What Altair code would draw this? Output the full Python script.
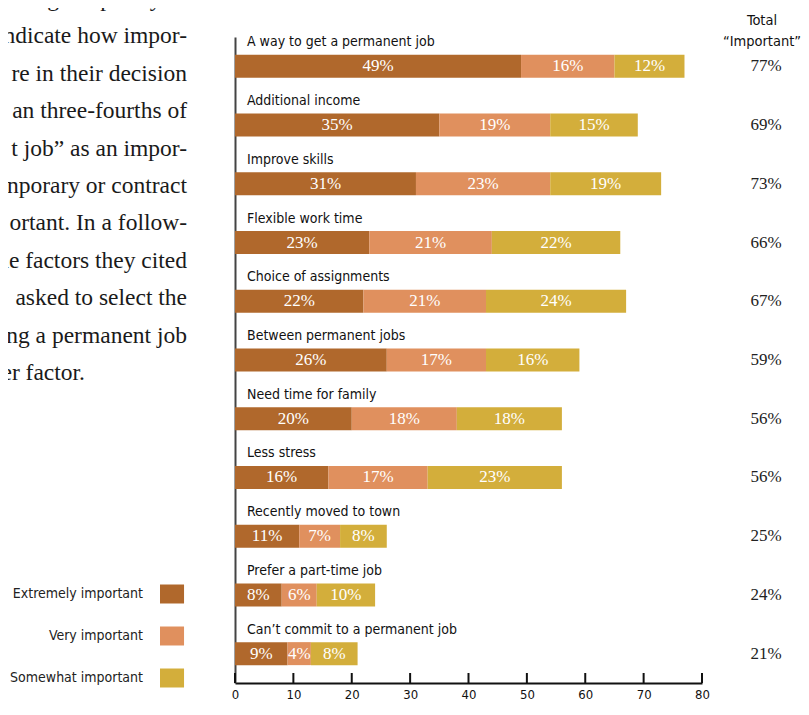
import altair as alt
import pandas as pd

categories = [
    "A way to get a permanent job",
    "Additional income",
    "Improve skills",
    "Flexible work time",
    "Choice of assignments",
    "Between permanent jobs",
    "Need time for family",
    "Less stress",
    "Recently moved to town",
    "Prefer a part-time job",
    "Can\u2019t commit to a permanent job",
]
levels = ["Extremely important", "Very important", "Somewhat important"]
extremely = [49, 35, 31, 23, 22, 26, 20, 16, 11, 8, 9]
very = [16, 19, 23, 21, 21, 17, 18, 17, 7, 6, 4]
somewhat = [12, 15, 19, 22, 24, 16, 18, 23, 8, 10, 8]
totals = [77, 69, 73, 66, 67, 59, 56, 56, 25, 24, 21]
colors = ["#B0682C", "#E0905E", "#D3AE3B"]
tick_values = [0, 10, 20, 30, 40, 50, 60, 70, 80]
total_header = ["Total", "\u201cImportant\u201d"]
paragraph_lines = [
    "osing temporary or",
    "ndicate how impor-",
    "re in their decision",
    "an three-fourths of",
    "t job\u201d as an impor-",
    "nporary or contract",
    "ortant. In a follow-",
    "he factors they cited",
    "asked to select the",
    "ng a permanent job",
    "er factor.",
]

SANS = "Liberation Sans Narrow, DejaVu Sans Condensed, Roboto Condensed, Arial Narrow, sans-serif"
SERIF = "Liberation Serif, DejaVu Serif, serif"

rows = []
for series, lvl in zip([extremely, very, somewhat], levels):
    for cat, v in zip(categories, series):
        rows.append({"category": cat, "level": lvl, "value": v, "order": levels.index(lvl)})
df = pd.DataFrame(rows)

cat_df = pd.DataFrame({"category": categories, "total": [f"{t}%" for t in totals]})

y_enc = alt.Y(
    "category:N",
    sort=categories,
    scale=alt.Scale(paddingInner=0, paddingOuter=0),
    axis=alt.Axis(title=None, labels=False, ticks=False, grid=False,
                  domain=True, domainColor="#444444", domainWidth=2),
)

stacked = (
    alt.Chart(df)
    .transform_stack(stack="value", groupby=["category"], as_=["start", "end"],
                     sort=[alt.SortField("order", order="ascending")])
    .transform_calculate(mid="(datum.start + datum.end) / 2", label="datum.value + '%'")
)

bars = stacked.mark_bar(size=23).encode(
    y=y_enc,
    x=alt.X(
        "start:Q",
        scale=alt.Scale(domain=[0, 80], nice=False, zero=True),
        axis=alt.Axis(values=tick_values, title=None, ticks=False, grid=False,
                      domainColor="#111111", domainWidth=2,
                      labelFont=SANS, labelFontSize=13, labelColor="#111111",
                      labelPadding=5, labelFlush=False),
    ),
    x2="end:Q",
    color=alt.Color(
        "level:N",
        scale=alt.Scale(domain=levels, range=colors),
        legend=alt.Legend(
            orient="none", legendX=-111, legendY=547.5, title=None,
            symbolType="M2.79,-1H5.32V1H2.79Z", symbolSize=361,
            symbolStrokeWidth=0, symbolOpacity=1,
            labelAlign="right", labelOffset=0, labelFont=SANS,
            labelFontSize=14, labelColor="#222222", rowPadding=23, padding=0,
        ),
    ),
)

bar_text = stacked.mark_text(font=SERIF, fontSize=17, color="white", baseline="middle").encode(
    y=alt.Y("category:N", sort=categories),
    x=alt.X("mid:Q"),
    text="label:N",
)

ticks = alt.Chart(pd.DataFrame({"t": tick_values})).mark_rule(color="#111111", strokeWidth=2).encode(
    x=alt.X("t:Q"),
    y=alt.value(636),
    y2=alt.value(646),
)

cat_labels = alt.Chart(cat_df).mark_text(
    align="left", baseline="middle", dy=-24, font=SANS, fontSize=14, color="#111111"
).encode(
    y=alt.Y("category:N", sort=categories),
    x=alt.value(12),
    text="category:N",
)

total_text = alt.Chart(cat_df).mark_text(
    align="center", baseline="middle", font=SERIF, fontSize=17, color="#222222"
).encode(
    y=alt.Y("category:N", sort=categories),
    x=alt.value(531),
    text="total:N",
)

header = alt.Chart(alt.InlineData(values=[{"text": total_header}])).mark_text(
    align="center", baseline="alphabetic", lineHeight=21, font=SANS, fontSize=14.5, color="#111111"
).encode(x=alt.value(527), y=alt.value(-12), text="text:N")

para_main = alt.Chart(alt.InlineData(values=[{"text": paragraph_lines[:-1]}])).mark_text(
    align="right", baseline="alphabetic", lineHeight=37.4, font=SERIF, fontSize=23.5, color="#1a1a1a"
).encode(x=alt.value(-48), y=alt.value(-31), text="text:N")

para_last = alt.Chart(alt.InlineData(values=[{"text": paragraph_lines[-1]}])).mark_text(
    align="right", baseline="alphabetic", font=SERIF, fontSize=23.5, color="#1a1a1a"
).encode(x=alt.value(-150), y=alt.value(-31 + 37.4 * 10), text="text:N")

chart = (
    alt.layer(bars, bar_text, ticks, cat_labels, total_text, header, para_main, para_last)
    .properties(
        width=467,
        height=646,
        padding={"left": 227, "top": 29, "right": 99, "bottom": 19},
        autosize=alt.AutoSizeParams(type="none"),
    )
    .configure_view(stroke=None)
)

chart.save("out.html", embed_options={"renderer": "svg", "actions": False})
